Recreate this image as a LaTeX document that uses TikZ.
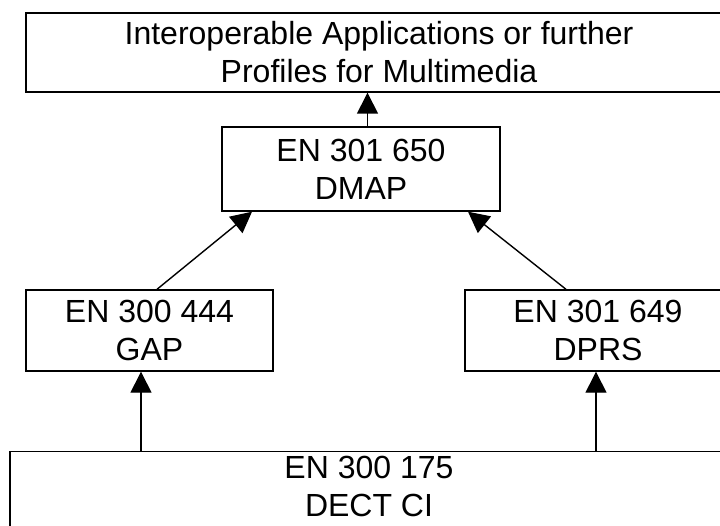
\documentclass[tikz,border=0pt]{standalone}
\usepackage{fontspec}
\setmainfont{Liberation Sans}
\usetikzlibrary{arrows.meta}
\begin{document}
\begin{tikzpicture}[x=1pt,y=-1pt,
  box/.style={draw, line width=1.4pt, inner sep=0pt, align=center, font=\fontsize{32}{38}\selectfont},
  txt/.style={inner sep=0pt, align=center, font=\fontsize{32}{38}\selectfont},
  arr/.style={line width=1.4pt, -{Triangle[length=21pt,width=21pt]}}]
\useasboundingbox (0,0) rectangle (720,526);
\fill[white] (0,0) rectangle (720,526);
\begin{scope}
\clip (0,0) rectangle (720,526);
\node[box, minimum width=706pt, minimum height=79pt] (top) at (379,52.5) {Interoperable Applications or further\\Profiles for Multimedia};
\node[box, minimum width=278pt, minimum height=84pt] (dmap) at (361,169) {EN 301 650\\DMAP};
\node[box, minimum width=247pt, minimum height=81pt] (gap) at (149.5,330.5) {EN 300 444\\GAP};
\node[box, minimum width=266pt, minimum height=81pt] (dprs) at (598,330.5) {EN 301 649\\DPRS};
\node[box, minimum width=718pt, minimum height=100pt, anchor=north] (dect) at (369,451) {};
\node[txt] (dectt) at (369,486.5) {EN 300 175\\DECT CI};
\coordinate (a0) at (367.5,0);
\coordinate (a1) at (141,0);
\coordinate (a2) at (596,0);
\coordinate (d1) at (157,0);
\coordinate (d2) at (252,0);
\coordinate (d3) at (566,0);
\coordinate (d4) at (468,0);
\draw[arr] (dmap.north -| a0) -- (top.south -| a0);
\draw[arr] (dect.north -| a1) -- (gap.south -| a1);
\draw[arr] (dect.north -| a2) -- (dprs.south -| a2);
\draw[arr] (gap.north -| d1) -- (dmap.south -| d2);
\draw[arr] (dprs.north -| d3) -- (dmap.south -| d4);
\end{scope}
\end{tikzpicture}
\end{document}
